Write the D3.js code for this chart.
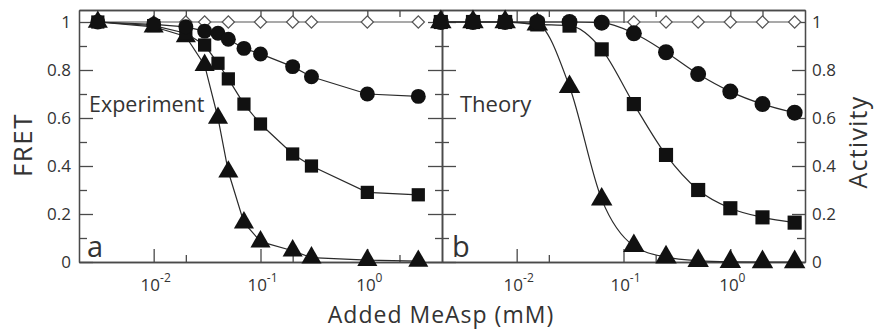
<!DOCTYPE html>
<html>
<head>
<meta charset="utf-8">
<script src="https://cdn.jsdelivr.net/npm/d3@7"></script>
<style>
body {margin:0; background:#fff;}
text {font-family: "Open Sans", sans-serif; fill:#333;}
</style>
</head>
<body>
<div id="viz"></div>
<script>
// data : experiment (panel a) ----
var expX = [0.003, 0.01, 0.02, 0.03, 0.04, 0.05, 0.07, 0.1, 0.2, 0.3, 1, 3]
var expCircle = [1.0, 0.99, 0.98, 0.962, 0.953, 0.928, 0.89, 0.867, 0.814, 0.772, 0.70, 0.69]
var expSquare = [1.0, 0.985, 0.953, 0.904, 0.828, 0.763, 0.658, 0.575, 0.45, 0.40, 0.29, 0.28]
var expTriangle = [1.0, 0.98, 0.94, 0.82, 0.60, 0.376, 0.164, 0.085, 0.047, 0.018, 0.008, 0.004]
var expDiamondX = [0.003, 0.01, 0.02, 0.03, 0.05, 0.1, 0.2, 0.3, 1, 3]
var expDiamond = [1, 1, 1, 1, 1, 1, 1, 1, 1, 1]

// data : theory (panel b) ----
var theoryX = [0.00195, 0.0039, 0.0078, 0.0156, 0.03125, 0.0625, 0.125, 0.25, 0.5, 1, 2, 4]
var theoryCircle = [1, 1, 1, 1, 1.0, 0.997, 0.953, 0.874, 0.783, 0.71, 0.658, 0.622]
var theorySquare = [1, 1, 1, 0.99, 0.985, 0.886, 0.658, 0.446, 0.30, 0.224, 0.186, 0.164]
var theoryTriangle = [1, 1, 1, 0.99, 0.73, 0.261, 0.067, 0.02, 0.005, 0.001, 0, 0]
var theoryDiamond = [1, 1, 1, 1, 1, 1, 1, 1, 1, 1, 1, 1]

// ticks ----
var xMajor = [0.01, 0.1, 1]
var xMinor = [0.02, 0.2, 2]
var yMajor = [0, 0.2, 0.4, 0.6, 0.8, 1]
var yMinor = [0.1, 0.3, 0.5, 0.7, 0.9]

var W = 876, H = 335
var frame = {left: 79, mid: 442, right: 805, top: 10, bottom: 262}
var ink = "#111", axisColor = "#4a4a4a"

svg = d3.select("#viz")
  .append("svg")
  .attr("width", W)
  .attr("height", H)

// step 1 : Scaling ----
var xA = d3.scaleLog().domain([0.002, 5]).range([frame.left, frame.mid])
var xB = d3.scaleLog().domain([0.002, 5]).range([frame.mid, frame.right])
var yScale = d3.scaleLinear().domain([0, 1.05]).range([frame.bottom, frame.top])

// step 2 : Axis ----
function styleAxis(g) {
  g.selectAll("path, line").attr("stroke", axisColor).attr("stroke-width", 1.3)
  g.selectAll("text").attr("font-size", 17).attr("fill", "#333").attr("font-family", '"Open Sans", sans-serif')
}

;[xA, xB].forEach(function(x) {
  svg.append("g").attr("transform", "translate(0," + frame.bottom + ")")
    .call(d3.axisBottom(x).tickValues(xMajor).tickSizeInner(-13).tickSizeOuter(0).tickFormat(""))
    .call(styleAxis)
  svg.append("g").attr("transform", "translate(0," + frame.bottom + ")")
    .call(d3.axisBottom(x).tickValues(xMinor).tickSizeInner(-7).tickSizeOuter(0).tickFormat(""))
    .call(styleAxis)
  svg.append("g").attr("transform", "translate(0," + frame.top + ")")
    .call(d3.axisTop(x).tickValues(xMajor).tickSizeInner(-13).tickSizeOuter(0).tickFormat(""))
    .call(styleAxis)
  svg.append("g").attr("transform", "translate(0," + frame.top + ")")
    .call(d3.axisTop(x).tickValues(xMinor).tickSizeInner(-7).tickSizeOuter(0).tickFormat(""))
    .call(styleAxis)

  // labels 10^n
  var lab = svg.append("g").selectAll("text")
    .data(xMajor)
    .enter()
    .append("text")
      .attr("x", function(d) { return x(d) + 2 })
      .attr("y", 291)
      .attr("text-anchor", "middle")
      .attr("font-size", 17)
  lab.append("tspan").text("10")
  lab.append("tspan")
    .attr("dy", -9)
    .attr("font-size", 12)
    .text(function(d) { return Math.round(Math.log10(d)) })
})

// left axis (FRET)
svg.append("g").attr("transform", "translate(" + frame.left + ",0)")
  .call(d3.axisLeft(yScale).tickValues(yMajor).tickSizeInner(-14).tickSizeOuter(0).tickPadding(8).tickFormat(function(d) { return d }))
  .call(styleAxis)
svg.append("g").attr("transform", "translate(" + frame.left + ",0)")
  .call(d3.axisLeft(yScale).tickValues(yMinor).tickSizeInner(-8).tickSizeOuter(0).tickFormat(""))
  .call(styleAxis)

// middle axis, ticks both sides
svg.append("g").attr("transform", "translate(" + frame.mid + ",0)")
  .call(d3.axisLeft(yScale).tickValues(yMajor).tickSizeInner(14).tickSizeOuter(0).tickFormat(""))
  .call(styleAxis)
svg.append("g").attr("transform", "translate(" + frame.mid + ",0)")
  .call(d3.axisRight(yScale).tickValues(yMajor).tickSizeInner(14).tickSizeOuter(0).tickFormat(""))
  .call(styleAxis)
svg.append("g").attr("transform", "translate(" + frame.mid + ",0)")
  .call(d3.axisLeft(yScale).tickValues(yMinor).tickSizeInner(7).tickSizeOuter(0).tickFormat(""))
  .call(styleAxis)
svg.append("g").attr("transform", "translate(" + frame.mid + ",0)")
  .call(d3.axisRight(yScale).tickValues(yMinor).tickSizeInner(7).tickSizeOuter(0).tickFormat(""))
  .call(styleAxis)

// right axis (Activity)
svg.append("g").attr("transform", "translate(" + frame.right + ",0)")
  .call(d3.axisRight(yScale).tickValues(yMajor).tickSizeInner(-13).tickSizeOuter(0).tickPadding(7).tickFormat(function(d) { return d }))
  .call(styleAxis)
svg.append("g").attr("transform", "translate(" + frame.right + ",0)")
  .call(d3.axisRight(yScale).tickValues(yMinor).tickSizeInner(-8).tickSizeOuter(0).tickFormat(""))
  .call(styleAxis)

// step 3 : Lines + markers ----
function series(x, xs, ys, shape, curve, open, big) {
  var pts = xs.map(function(d, i) { return {x: d, y: ys[i]} })
  var line = d3.line()
    .x(function(d) { return x(d.x) })
    .y(function(d) { return yScale(d.y) })
    .curve(curve)
  svg.append("path")
    .datum(pts)
    .attr("d", line)
    .attr("fill", "none")
    .attr("stroke", open ? "#555" : "#2a2a2a")
    .attr("stroke-width", 1.2)
  var sym = d3.symbol().type(shape).size(open ? 75 : (big ? 200 : 175))
  svg.append("g")
    .selectAll("path")
    .data(pts)
    .enter()
    .append("path")
      .attr("d", sym)
      .attr("transform", function(d) { return "translate(" + x(d.x) + "," + yScale(d.y) + ")" + (open ? " rotate(45)" : "") })
      .attr("fill", open ? "#fff" : ink)
      .attr("stroke", open ? "#555" : "none")
      .attr("stroke-width", 1.2)
}

series(xA, expDiamondX, expDiamond, d3.symbolSquare, d3.curveLinear, true)
series(xA, expX, expTriangle, d3.symbolTriangle, d3.curveLinear)
series(xA, expX, expSquare, d3.symbolSquare, d3.curveLinear)
series(xA, expX, expCircle, d3.symbolCircle, d3.curveLinear)

series(xB, theoryX, theoryDiamond, d3.symbolSquare, d3.curveLinear, true)
series(xB, theoryX, theoryTriangle, d3.symbolTriangle, d3.curveMonotoneX, false, true)
series(xB, theoryX, theorySquare, d3.symbolSquare, d3.curveMonotoneX, false, true)
series(xB, theoryX, theoryCircle, d3.symbolCircle, d3.curveMonotoneX, false, true)

// step 4 : Labels ----
svg.append("text").text("Experiment").attr("x", 89).attr("y", 112).attr("font-size", 21.5)
svg.append("text").text("Theory").attr("x", 460).attr("y", 112).attr("font-size", 22)
svg.append("text").text("a").attr("x", 87).attr("y", 257).attr("font-size", 29)
svg.append("text").text("b").attr("x", 452).attr("y", 257).attr("font-size", 29)

svg.append("text").text("Added MeAsp (mM)")
  .attr("x", 441).attr("y", 323)
  .attr("text-anchor", "middle")
  .attr("font-size", 23)
  .attr("letter-spacing", 1)

svg.append("text").text("FRET")
  .attr("transform", "translate(32,145) rotate(-90)")
  .attr("text-anchor", "middle")
  .attr("font-size", 26)
  .attr("letter-spacing", 1.5)

svg.append("text").text("Activity")
  .attr("transform", "translate(867,142) rotate(-90)")
  .attr("text-anchor", "middle")
  .attr("font-size", 25)
  .attr("letter-spacing", 1.2)
</script>
</body>
</html>
